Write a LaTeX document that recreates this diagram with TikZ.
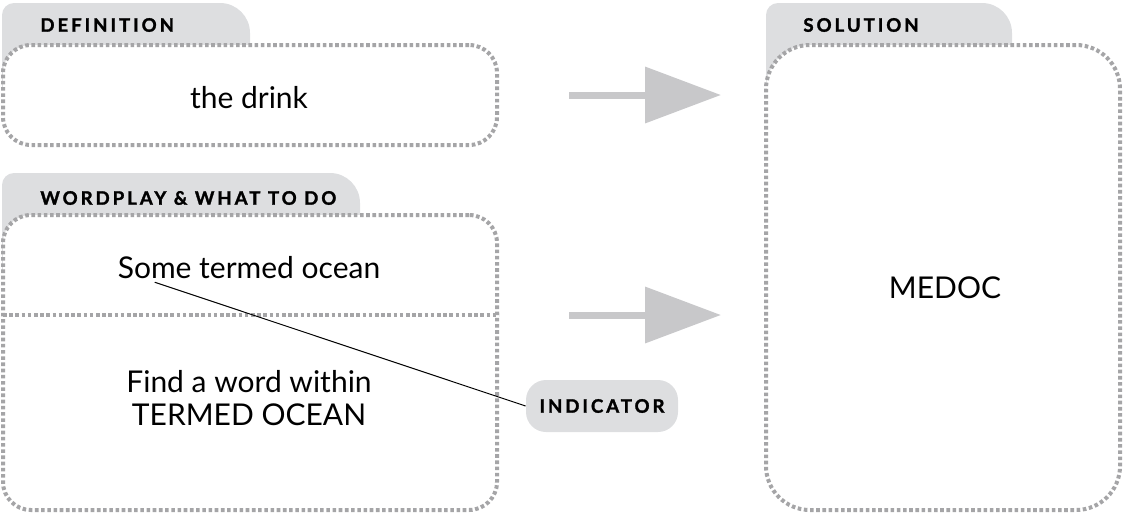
\documentclass[tikz,border=0pt]{standalone}
\usepackage{fontspec}
\setmainfont{Lato}
\newfontfamily\tabfont[LetterSpace=16, BoldFeatures={FakeBold=1.6}]{Lato}
\usetikzlibrary{arrows.meta,calc}

\definecolor{tabgray}{RGB}{221,222,224}
\definecolor{dotgray}{RGB}{165,165,167}
\definecolor{arrowgray}{RGB}{200,200,202}

\tikzset{
  dotbox/.style={draw=dotgray, fill=white, line width=2pt,
    dash pattern=on 1.8pt off 1.3pt, rounded corners=14pt, inner sep=0pt},
  tablabel/.style={anchor=west, inner sep=0pt, font=\tabfont\bfseries\fontsize{9.3}{10}\selectfont},
  cluetext/.style={font=\fontsize{15}{18}\selectfont, align=center},
  bigarrow/.style={arrowgray, line width=3.5pt,
    -{Triangle[length=38pt, width=27.5pt]}},
}

\begin{document}
\begin{tikzpicture}[x=0.5pt, y=-0.5pt]
    \useasboundingbox (0,0) rectangle (1124,515);
    % tabs
    \fill[tabgray] (2,90) [rounded corners=6pt] -- (2,3) [rounded corners=15pt] -- (250,3) [sharp corners] -- (250,90) -- cycle;
    \fill[tabgray] (2,270) [rounded corners=6pt] -- (2,173) [rounded corners=15pt] -- (360,173) [sharp corners] -- (360,270) -- cycle;
    \fill[tabgray] (766,200) [rounded corners=6pt] -- (766,3) [rounded corners=15pt] -- (1012,3) [sharp corners] -- (1012,200) -- cycle;
    \node[tablabel] (deftab) at (40,25) {DEFINITION};
    \node[tablabel] (wptab) at (40,198) {WORDPLAY \& WHAT TO DO};
    \node[tablabel] (soltab) at (803,25) {SOLUTION};
    % boxes
    \node[dotbox, minimum width=247pt, minimum height=50pt] (def) at (250,95) {};
    \node[dotbox, minimum width=247pt, minimum height=147.5pt] (wp) at (250,362.5) {};
    \node[dotbox, minimum width=177pt, minimum height=232.5pt, rounded corners=22pt] (sol) at (943,277.5) {};
    \coordinate (split) at (3,315);
    \draw[dotgray, line width=2pt, dash pattern=on 1.8pt off 1.3pt] (split) -- (split -| wp.east);
    % texts
    \node[cluetext] (drink) at (249,98) {the drink};
    \node[cluetext] (some) at (249,268) {Some termed ocean};
    \node[cluetext, font=\fontsize{15}{16.5}\selectfont] (find) at (249,398) {Find a word within\\TERMED OCEAN};
    \node[cluetext] (medoc) at (945,288) {MEDOC};
    % indicator
    \node[fill=tabgray, rounded corners=10pt, minimum width=76pt, minimum height=26pt, inner sep=0pt,
      font=\tabfont\bfseries\fontsize{9.3}{10}\selectfont] (ind) at (602,406) {INDICATOR};
    \draw[line width=0.5pt] ([xshift=22pt, yshift=2pt]some.south west) -- (ind.west);
    % arrows
    \draw[bigarrow] ([xshift=35pt]def.east) -- ([xshift=-21.5pt]def.east -| sol.west);
    \draw[bigarrow] ([xshift=35pt]split -| wp.east) -- ([xshift=-21.5pt]split -| sol.west);
\end{tikzpicture}
\end{document}
